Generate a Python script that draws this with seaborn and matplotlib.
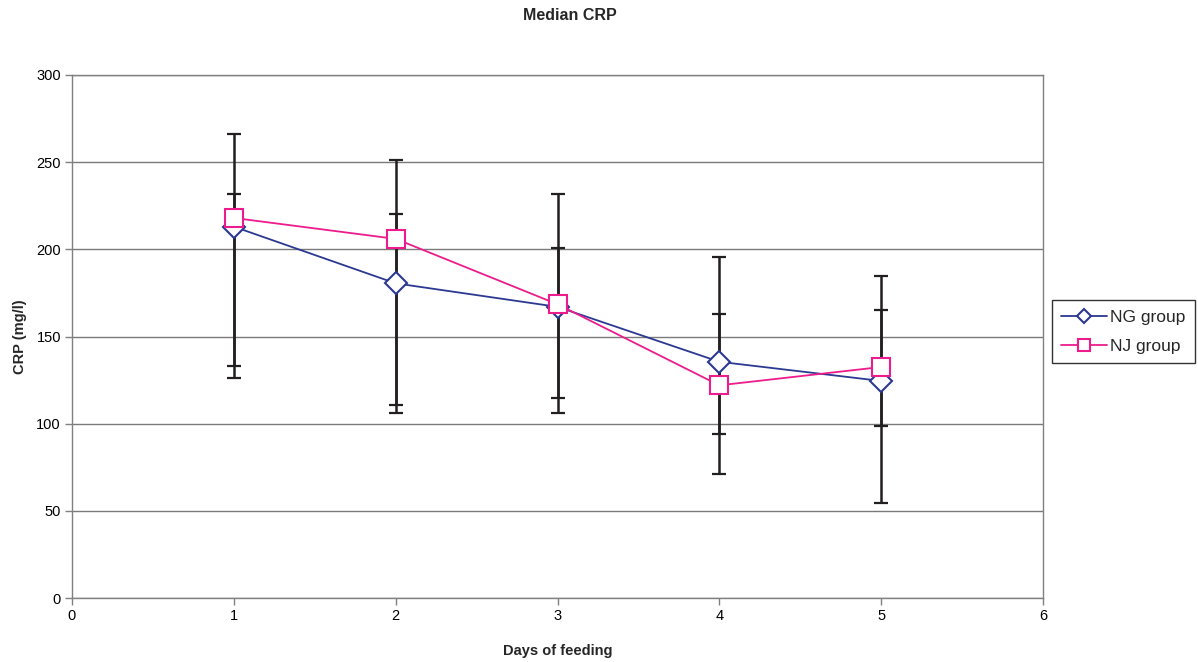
import matplotlib
matplotlib.use("Agg")
import matplotlib.pyplot as plt
import seaborn as sns
import pandas as pd
from matplotlib.lines import Line2D

days = [1, 2, 3, 4, 5]
ng_median = [213, 180.5, 167, 135.5, 124.5]
nj_median = [218, 206, 168.5, 122, 132.5]
ng_lower = [133, 110.5, 115, 71, 54.5]
ng_upper = [232, 220, 201, 163, 165]
nj_lower = [126, 106, 106, 94, 98.5]
nj_upper = [266, 251, 232, 195.5, 184.5]

sns.set_theme(style="white")
plt.rcParams['font.family'] = ['Liberation Sans', 'DejaVu Sans']

fig = plt.figure(figsize=(11.98, 6.62), dpi=100)
ax = fig.add_axes([72/1198, 1-598/662, (1043-72)/1198, (598-75)/662])

df = pd.DataFrame({
    "day": days * 2,
    "crp": ng_median + nj_median,
    "group": ["NG group"] * 5 + ["NJ group"] * 5,
})

ng_color = "#2B3990"
nj_color = "#EC1C8C"

for med, lo, hi in [(ng_median, ng_lower, ng_upper), (nj_median, nj_lower, nj_upper)]:
    ax.errorbar(days, med,
                yerr=[[m - l for m, l in zip(med, lo)], [h - m for m, h in zip(med, hi)]],
                fmt="none", ecolor="#231F20", elinewidth=1.8, capsize=5, capthick=1.6, zorder=2)

sns.lineplot(data=df, x="day", y="crp", hue="group", style="group",
             palette={"NG group": ng_color, "NJ group": nj_color},
             markers={"NG group": "D", "NJ group": "s"}, dashes=False,
             markerfacecolor="white", linewidth=1.3, markeredgewidth=1.5,
             ax=ax, zorder=3, legend=False)
for ln, ms in zip(ax.lines[-2:], [11, 13]):
    ln.set_markersize(ms)
    ln.set_markeredgecolor(ln.get_color())
    ln.set_markerfacecolor("white")

ax.set_xlim(0, 6)
ax.set_ylim(0, 300)
ax.set_xticks(range(0, 7))
ax.set_yticks(range(0, 301, 50))
ax.yaxis.grid(True, color="#7a7a7a", linewidth=1.0)
ax.set_axisbelow(True)
for s in ax.spines.values():
    s.set_color("#808080")
    s.set_linewidth(1.0)
ax.tick_params(axis="both", direction="out", length=5, width=1, color="#808080",
               labelsize=10.5, labelcolor="black", left=True, bottom=True, pad=3)

ax.set_xlabel("Days of feeding", fontsize=10.5, fontweight="bold", labelpad=15)
ax.set_ylabel("CRP (mg/l)", fontsize=10.5, fontweight="bold", labelpad=7)
fig.text(570/1198, 1-15/662, "Median CRP", ha="center", va="center",
         fontsize=11.5, fontweight="bold")

handles = [
    Line2D([], [], color=ng_color, marker="D", markerfacecolor="white", markeredgecolor=ng_color,
           markersize=7.5, linewidth=1.3, markeredgewidth=1.5),
    Line2D([], [], color=nj_color, marker="s", markerfacecolor="white", markeredgecolor=nj_color,
           markersize=9, linewidth=1.3, markeredgewidth=1.5),
]
leg = fig.legend(handles, ["NG group", "NJ group"], loc="upper right",
                 bbox_to_anchor=(1195/1198, 1-300/662), frameon=True, fancybox=False,
                 fontsize=12.5, handlelength=2.6, borderpad=0.55, labelspacing=0.8,
                 handletextpad=0.2, borderaxespad=0)
leg.get_frame().set_edgecolor("black")
leg.get_frame().set_linewidth(1.0)

fig.savefig("out.png", dpi=100, facecolor="white")
